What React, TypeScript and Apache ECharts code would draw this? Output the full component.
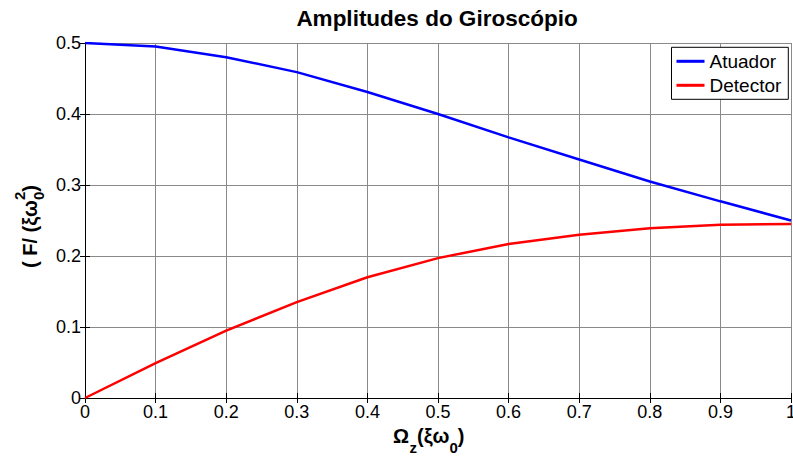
import React, { useEffect, useRef } from "react";
import * as echarts from "echarts";

// Normalised rotation rate Ωz (in units of ξω0)
const omega = [0, 0.1, 0.2, 0.3, 0.4, 0.5, 0.6, 0.7, 0.8, 0.9, 1.0];
// Amplitude of the drive (actuator) mode
const atuador = [0.5, 0.495, 0.48, 0.459, 0.431, 0.4, 0.367, 0.336, 0.305, 0.277, 0.25];
// Amplitude of the sense (detector) mode
const detector = [0, 0.049, 0.095, 0.135, 0.17, 0.197, 0.217, 0.23, 0.239, 0.244, 0.245];

const seriesNames = ["Atuador", "Detector"];
const seriesColors = ["#0000ff", "#ff0000"];
const titleText = "Amplitudes do Giroscópio";

const FONT = "'Liberation Sans', Arial, Helvetica, sans-serif";

function textWidth(text: string, size: number, weight = "bold"): number {
  const ctx = document.createElement("canvas").getContext("2d");
  if (!ctx) return text.length * size * 0.6;
  ctx.font = `${weight} ${size}px ${FONT}`;
  return ctx.measureText(text).width;
}

// A bold text piece placed by its baseline
function piece(text: string, x: number, baseline: number, size: number, align = "left") {
  return {
    type: "text",
    x,
    y: baseline - 0.35 * size,
    silent: true,
    style: {
      text,
      fontSize: size,
      fontWeight: "bold",
      fontFamily: FONT,
      fill: "#000",
      align,
      textAlign: align,
      verticalAlign: "middle",
      textVerticalAlign: "middle",
    },
  };
}

function xAxisTitle() {
  const main = 20;
  const small = 15;
  const base = 443;
  const subBase = 452.5;
  let x = 393;
  const parts: any[] = [];
  parts.push(piece("Ω", x, base, main));
  x += textWidth("Ω", main) + 0.5;
  parts.push(piece("z", x, subBase, small));
  x += textWidth("z", small);
  parts.push(piece("(ξω", x, base, main));
  x += textWidth("(ξω", main);
  parts.push(piece("0", x, subBase, small));
  x += textWidth("0", small);
  parts.push(piece(")", x, base, main));
  return parts;
}

function yAxisTitle() {
  const main = 20;
  const small = 15;
  const parts: any[] = [];
  let x = 0;
  parts.push(piece("( F/ (ξω", x, 0, main));
  x += textWidth("( F/ (ξω", main);
  parts.push(piece("0", x, 6.8, small));
  parts.push(piece("2", x, -11.5, small));
  x += Math.max(textWidth("0", small), textWidth("2", small));
  parts.push(piece(")", x, 0, main));
  return {
    type: "group",
    x: 36.5,
    y: 268,
    rotation: Math.PI / 2,
    children: parts,
  };
}

export default function App() {
  const ref = useRef<HTMLDivElement>(null);

  useEffect(() => {
    if (!ref.current) return;
    const chart = echarts.init(ref.current, undefined, { renderer: "svg" });

    const axisLine = { show: true, lineStyle: { color: "#000", width: 1 } };
    const tick = { show: true, inside: true, length: 5, lineStyle: { color: "#000" } };
    const label = { color: "#000", fontSize: 18, fontFamily: FONT };
    const gridLine = { show: true, lineStyle: { color: "#8a8a8a", width: 1 } };

    chart.setOption({
      animation: false,
      backgroundColor: "#fff",
      grid: {
        left: 85,
        right: 2,
        top: 43,
        bottom: 58,
        containLabel: false,
        outerBoundsMode: "none",
      },
      xAxis: [
        {
          type: "value",
          min: 0,
          max: 1,
          interval: 0.1,
          position: "bottom",
          axisLine,
          axisTick: tick,
          axisLabel: { ...label, margin: 5 },
          splitLine: gridLine,
        },
        {
          type: "value",
          min: 0,
          max: 1,
          interval: 0.1,
          position: "top",
          axisLine,
          axisTick: tick,
          axisLabel: { show: false },
          splitLine: { show: false },
        },
      ],
      yAxis: [
        {
          type: "value",
          min: 0,
          max: 0.5,
          interval: 0.1,
          position: "left",
          axisLine,
          axisTick: tick,
          axisLabel: { ...label, margin: 4 },
          splitLine: gridLine,
        },
        {
          type: "value",
          min: 0,
          max: 0.5,
          interval: 0.1,
          position: "right",
          axisLine,
          axisTick: tick,
          axisLabel: { show: false },
          splitLine: { show: false },
        },
      ],
      legend: {
        show: true,
        orient: "vertical",
        left: 671.5,
        top: 47.3,
        data: seriesNames.map((name) => ({ name, icon: "rect" })),
        itemWidth: 28,
        itemHeight: 3,
        itemGap: 4,
        padding: [4, 7, 4, 5],
        backgroundColor: "#fff",
        borderColor: "#000",
        borderWidth: 1,
        borderRadius: 0,
        textStyle: { color: "#000", fontSize: 19, fontFamily: FONT, lineHeight: 20 },
        selectedMode: false,
      },
      series: [
        {
          name: seriesNames[0],
          type: "line",
          data: omega.map((w, i) => [w, atuador[i]]),
          symbol: "none",
          lineStyle: { color: seriesColors[0], width: 2.5 },
          itemStyle: { color: seriesColors[0] },
          z: 3,
        },
        {
          name: seriesNames[1],
          type: "line",
          data: omega.map((w, i) => [w, detector[i]]),
          symbol: "none",
          lineStyle: { color: seriesColors[1], width: 2.5 },
          itemStyle: { color: seriesColors[1] },
          z: 3,
        },
      ],
      graphic: [
        piece(titleText, 437, 26.7, 22.5, "center"),
        ...xAxisTitle(),
        yAxisTitle(),
      ],
    });

    return () => chart.dispose();
  }, []);

  return (
    <div
      ref={ref}
      style={{ position: "absolute", left: 0, top: 0, width: 793, height: 456 }}
    />
  );
}
